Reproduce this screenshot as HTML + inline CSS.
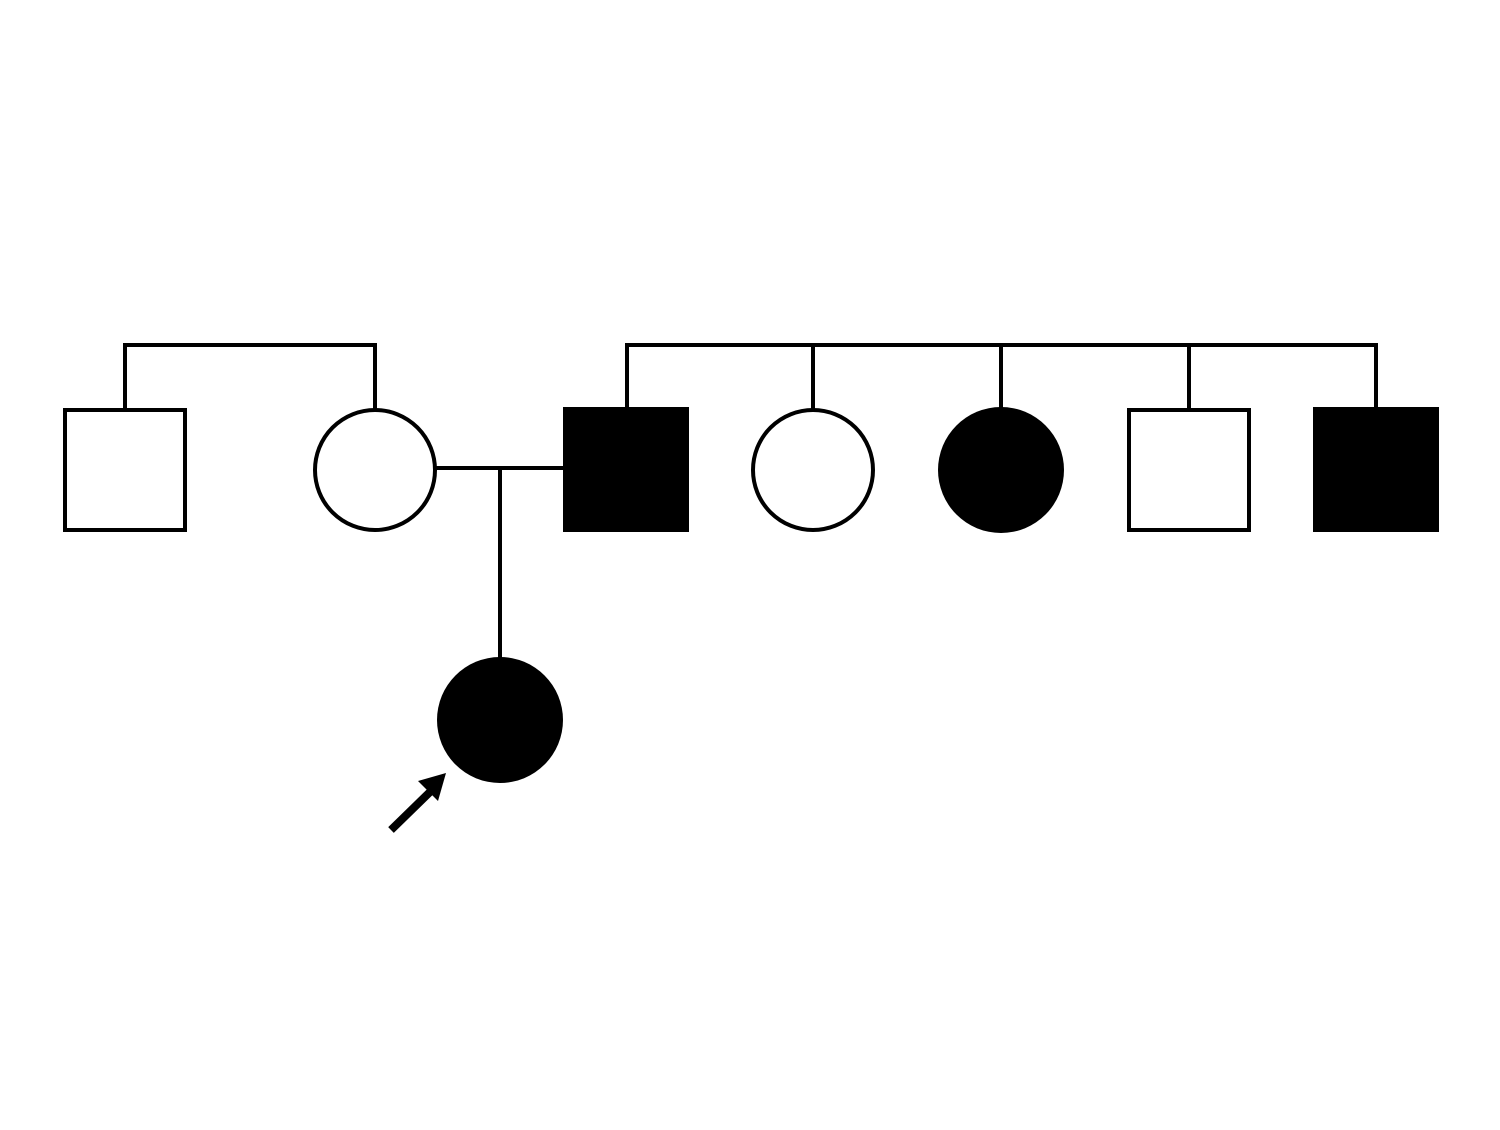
<!DOCTYPE html>
<html><head><style>html,body{margin:0;padding:0;background:#fff}</style></head>
<body>
<svg width="1500" height="1125" viewBox="0 0 1500 1125" xmlns="http://www.w3.org/2000/svg">
<g stroke="#000" stroke-width="4" fill="none">
<polyline points="125,410 125,345 375,345 375,410"/>
<line x1="627" y1="345" x2="1376" y2="345"/>
<line x1="627" y1="343" x2="627" y2="410"/>
<line x1="813" y1="345" x2="813" y2="410"/>
<line x1="1001" y1="345" x2="1001" y2="410"/>
<line x1="1189" y1="345" x2="1189" y2="410"/>
<line x1="1376" y1="343" x2="1376" y2="410"/>
<line x1="435" y1="468" x2="565" y2="468"/>
<line x1="500" y1="468" x2="500" y2="660"/>
<rect x="65" y="410" width="120" height="120" fill="#fff"/>
<circle cx="375" cy="470" r="60" fill="#fff"/>
<circle cx="813" cy="470" r="60" fill="#fff"/>
<rect x="1129" y="410" width="120" height="120" fill="#fff"/>
<line x1="391" y1="830" x2="432" y2="790" stroke-width="8"/>
</g>
<rect x="563" y="407" width="126" height="125" fill="#000"/>
<circle cx="1001" cy="470" r="63" fill="#000"/>
<rect x="1313" y="407" width="126" height="125" fill="#000"/>
<circle cx="500" cy="720" r="63" fill="#000"/>
<polygon points="446,773 418,781 438,801" fill="#000"/>
</svg>
</body></html>
